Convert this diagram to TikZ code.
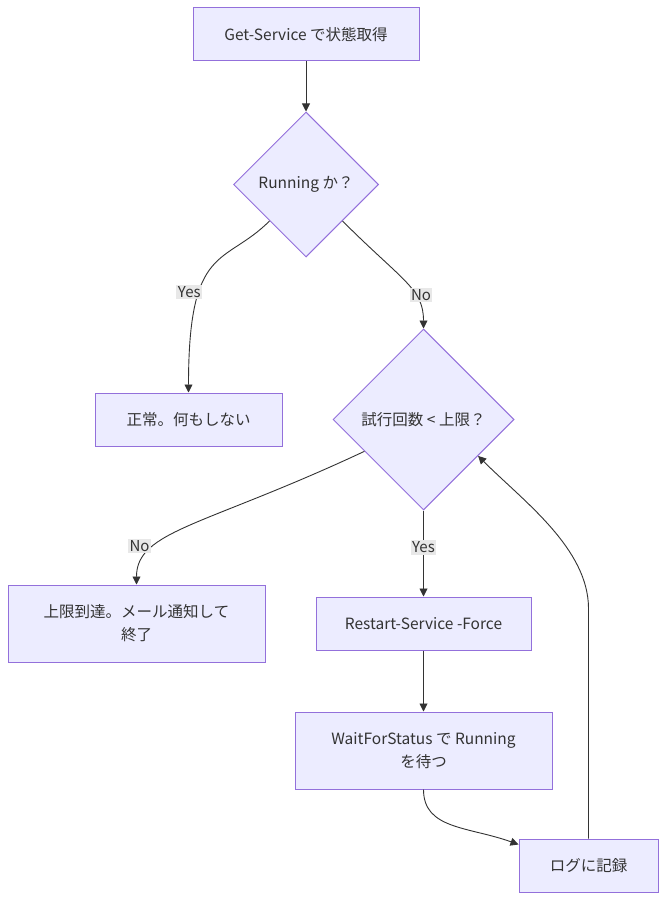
\documentclass[tikz,border=0pt]{standalone}
\usepackage{fontspec}
\setmainfont{Noto Sans CJK JP}
\usetikzlibrary{positioning,shapes.geometric,arrows.meta,calc}
\definecolor{nodefill}{HTML}{ECECFF}
\definecolor{nodeline}{HTML}{9370DB}
\definecolor{edgeline}{HTML}{333333}
\definecolor{lblfill}{HTML}{E8E8E8}

\begin{document}
\begin{tikzpicture}[
  x=1pt, y=1pt,
  font=\fontsize{15.5}{23}\selectfont,
  text=edgeline,
  box/.style={draw=nodeline, fill=nodefill, line width=1pt, align=center, minimum height=53pt, inner sep=0pt},
  dec/.style={diamond, aspect=1, draw=nodeline, fill=nodefill, line width=1pt, align=center, inner sep=0pt},
  arr/.style={-{Triangle[length=8pt,width=8pt]}, draw=edgeline, line width=0.9pt},
  lbl/.style={fill=lblfill, inner sep=1.5pt, font=\fontsize{15}{16}\selectfont},
]
\useasboundingbox (0,0) rectangle (671,-909);
% ---- nodes ----
\node[box, minimum width=226pt] (get) at (306,-34.5) {Get-Service で状態取得};
\node[dec, minimum size=145pt, below=50pt of get] (run) {Running か？};
\node[dec, minimum size=181pt] (try) at (423.5,-419.5) {試行回数 < 上限？};
\node[box, minimum width=187pt, left=50pt of try] (ok) {正常。何もしない};
\node[box, minimum width=215pt, below=86pt of try] (restart) {Restart-Service -Force};
\node[box, minimum width=257pt, minimum height=77pt, left=50pt of restart] (limit) {上限到達。メール通知して\\終了};
\node[box, minimum width=257pt, minimum height=77pt, below=61pt of restart] (wait) {WaitForStatus で Running\\を待つ};
\node[box, minimum width=139pt, below right=49pt and -34pt of wait] (log) {ログに記録};
% ---- arrows ----
\draw[arr] (run.south west) .. controls +(-45,-45) and +(0,150) .. (ok.north) node[lbl, pos=0.67, xshift=-10pt] {Yes};
\draw[arr] (get) -- (run);
\draw[arr] (run.south east) .. controls +(60,-60) and +(0,40) .. (try.north) node[lbl, pos=0.65, xshift=6pt] {No};
\draw[arr] ($(try.west)!0.35!(try.south)$) .. controls +(-160,-75) and +(0,54) .. (limit.north) node[lbl, pos=0.7, xshift=-16pt] {No};
\draw[arr] (try) -- (restart) node[lbl, pos=0.43] {Yes};
\draw[arr] (restart) -- (wait);
\draw[arr] (wait.south) .. controls +(0,-40) and +(-50,18) .. ($(log.north west)+(0,-6)$);
% loop back to the counter check
\draw[arr] (log.north) -- ++(0,230) .. controls +(0,60) and +(45,-45) .. ($(try.east)!0.4!(try.south)$);
\end{tikzpicture}
\end{document}
